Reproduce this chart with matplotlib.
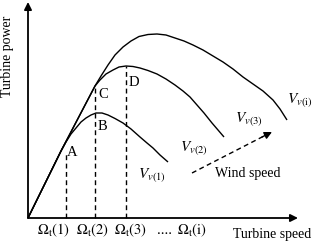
import numpy as np
import matplotlib
matplotlib.use('Agg')
from matplotlib import pyplot as plt

plt.rcParams['font.family'] = ['Liberation Serif', 'DejaVu Serif']
plt.rcParams['mathtext.fontset'] = 'stix'

# power curves (turbine speed, turbine power)
curve_v1_x = [0, 33, 38, 43, 48, 53, 58, 63, 68, 74, 80, 87, 95, 103, 112, 119, 125, 132, 140]
curve_v1_y = [0, 67, 76, 84, 90, 96, 100, 103, 105, 105, 103, 99.5, 95, 89, 81, 75, 70, 63, 56]

curve_v2_x = [0, 33, 67, 72, 78, 85, 91, 98, 105, 112, 120, 129, 138, 147, 155, 162,
              169, 176, 184, 190, 196]
curve_v2_y = [0, 67, 132, 138, 144, 148, 151, 152, 151.5, 150, 147.5, 144, 139, 133, 127, 121,
              113, 105, 95, 88, 81]

curve_vi_x = [0, 33, 67, 73, 80, 87, 95, 103, 111, 120, 129, 138, 147, 156, 165, 175, 185,
              195, 205, 215, 225, 235, 245, 252, 259]
curve_vi_y = [0, 67, 132, 142, 153, 163, 171, 177, 181.5, 183.5, 184, 183, 180, 177, 173, 168, 162,
              156, 149, 141, 134, 127, 118, 109, 98]

# operating points: dashed drop lines
drop_x = [38, 67, 98]
drop_top = [64, 132, 152]

point_labels = ['A', 'B', 'C', 'D']
point_x = [44, 74, 75, 106]
point_y = [66, 91, 123, 136]

speed_labels = [r'$\Omega_{\rm t}(1)$', r'$\Omega_{\rm t}(2)$', r'$\Omega_{\rm t}(3)$',
                r'....', r'$\Omega_{\rm t}({\rm i})$']
speed_pos = [26, 65, 103, 136, 164]

curve_labels = [r'$V_{v(1)}$', r'$V_{v(2)}$', r'$V_{v(3)}$', r'$V_{v({\rm i})}$']
curve_label_x = [110, 152, 207, 259]
curve_label_y = [43, 70, 99, 118]

fig = plt.figure(figsize=(3.15, 2.43), dpi=100)
ax = fig.add_axes([0, 0, 1, 1])
ax.set_xlim(-28, 287)
ax.set_ylim(-25, 218)
ax.axis('off')

# axes with arrow heads
ax.annotate('', xy=(0, 216), xytext=(0, 0),
            arrowprops=dict(arrowstyle='-|>', lw=1.3, color='k', mutation_scale=11,
                            shrinkA=0, shrinkB=0))
ax.annotate('', xy=(270, 0), xytext=(0, 0),
            arrowprops=dict(arrowstyle='-|>', lw=1.3, color='k', mutation_scale=11,
                            shrinkA=0, shrinkB=0))

for cx, cy in [(curve_v1_x, curve_v1_y), (curve_v2_x, curve_v2_y), (curve_vi_x, curve_vi_y)]:
    ax.plot(cx, cy, color='k', lw=1.0, solid_capstyle='butt', solid_joinstyle='round')

for x, top in zip(drop_x, drop_top):
    ax.plot([x, x], [0, top], color='k', lw=1.0, linestyle=(0, (3.5, 2.5)))

for lab, x, y in zip(point_labels, point_x, point_y):
    ax.text(x, y, lab, fontsize=10.5, ha='center', va='center')

for lab, x in zip(speed_labels, speed_pos):
    ax.text(x, -12, lab, fontsize=10.5, ha='center', va='center')

for lab, x, y in zip(curve_labels, curve_label_x, curve_label_y):
    ax.text(x, y, lab, fontsize=11, ha='left', va='center')

ax.text(-20, 162, 'Turbine power', fontsize=10, rotation=90, ha='center', va='center')
ax.text(244, -16, 'Turbine speed', fontsize=10, ha='center', va='center')

# wind speed arrow
ax.plot([164, 238], [45, 83], color='k', lw=1.0, linestyle=(0, (3.5, 2.5)))
ax.annotate('', xy=(244, 86), xytext=(234, 81),
            arrowprops=dict(arrowstyle='-|>', lw=1.0, color='k', mutation_scale=11,
                            shrinkA=0, shrinkB=0))
ax.text(220, 44, 'Wind speed', fontsize=10, ha='center', va='center')

fig.savefig('out.png', dpi=100)
